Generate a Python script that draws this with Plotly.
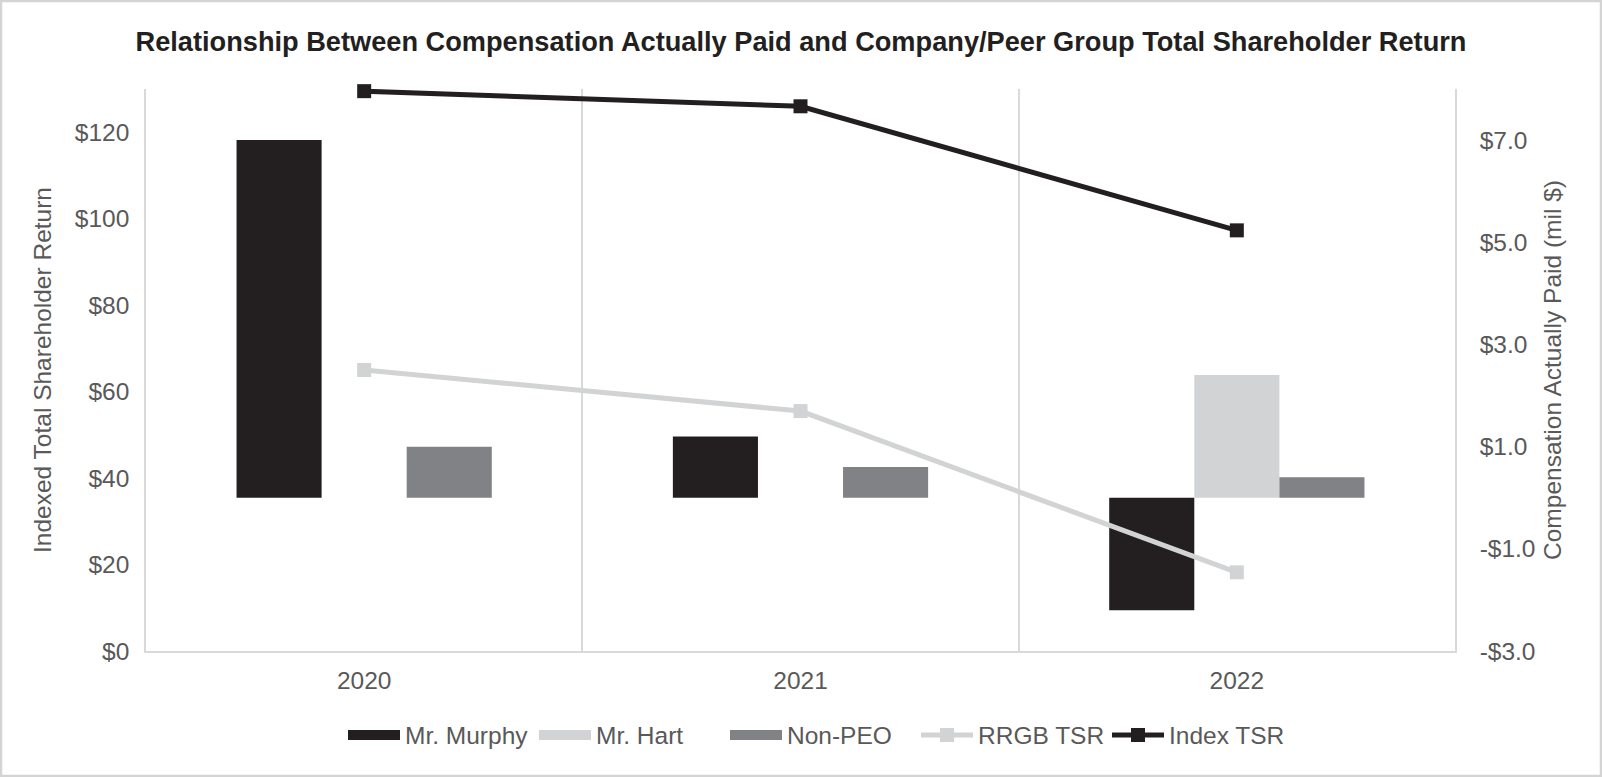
import plotly.graph_objects as go

# ---- data ----
years = ["2020", "2021", "2022"]
murphy = [7.0, 1.2, -2.2]
hart = [None, None, 2.4]
non_peo = [1.0, 0.6, 0.4]
rrgb_tsr = [65.0, 55.5, 18.2]
index_tsr = [129.5, 126.0, 97.3]

tsr_ticks = [0, 20, 40, 60, 80, 100, 120]
tsr_labels = ["$0", "$20", "$40", "$60", "$80", "$100", "$120"]
cap_ticks = [-3, -1, 1, 3, 5, 7]
cap_labels = ["-$3.0", "-$1.0", "$1.0", "$3.0", "$5.0", "$7.0"]

bar_names = ["Mr. Murphy", "Mr. Hart", "Non-PEO"]
bar_colors = ["#231f20", "#d1d3d4", "#808285"]

W, H = 1602, 777
ML, MR, MT, MB = 146, 147, 89, 126
FONT = "Liberation Sans, Arial, Helvetica, sans-serif"
GRAY_TXT = "#595959"
GRID = "#d9d9d9"
FS = 24.5

fig = go.Figure()

# bars on primary y (right side, compensation); legend drawn via swatch traces below
for name, vals, col in zip(bar_names, [murphy, hart, non_peo], bar_colors):
    fig.add_trace(go.Bar(x=years, y=vals, name=name, marker_color=col,
                         marker_line_width=0, yaxis="y", showlegend=False,
                         legendgroup=name))

# wide rectangular legend swatches for the bar series (no data points)
for name, col in zip(bar_names, bar_colors):
    fig.add_trace(go.Scatter(x=[None], y=[None], name=name, mode="lines",
                             line=dict(color=col, width=12), yaxis="y",
                             legendgroup=name, hoverinfo="skip"))

# lines on overlaying y2 (left side, TSR) so they draw above bars
fig.add_trace(go.Scatter(x=years, y=rrgb_tsr, name="RRGB TSR", mode="lines+markers",
                         line=dict(color="#d1d3d4", width=5),
                         marker=dict(symbol="square", size=14, color="#d1d3d4"),
                         yaxis="y2", cliponaxis=False))
fig.add_trace(go.Scatter(x=years, y=index_tsr, name="Index TSR", mode="lines+markers",
                         line=dict(color="#231f20", width=5),
                         marker=dict(symbol="square", size=14, color="#231f20"),
                         yaxis="y2", cliponaxis=False))

pw = W - ML - MR
ph = H - MT - MB

fig.update_layout(
    width=W, height=H,
    margin=dict(l=ML, r=MR, t=MT, b=MB),
    paper_bgcolor="white", plot_bgcolor="white",
    font=dict(family=FONT, size=FS, color=GRAY_TXT),
    barmode="group", bargap=0.415, bargroupgap=0,
    title=dict(text="<b>Relationship Between Compensation Actually Paid and Company/Peer Group Total Shareholder Return</b>",
               x=0.5, xanchor="center", y=(H - 41) / H, yanchor="middle",
               font=dict(family=FONT, size=27.2, color="#231f20")),
    xaxis=dict(type="category", tickson="boundaries", showgrid=True, gridcolor=GRID,
               gridwidth=1.5, showline=True, linecolor=GRID, linewidth=1.5,
               ticks="", tickfont=dict(size=FS, color=GRAY_TXT), ticklabelstandoff=7,
               range=[-0.5, 2.5]),
    yaxis=dict(side="right", range=[-3, 8], tickvals=cap_ticks, ticktext=cap_labels,
               showgrid=False, zeroline=False, showline=True, linecolor=GRID, linewidth=1.5,
               ticks="", ticklabelstandoff=18,
               title=dict(text="Compensation Actually Paid (mil $)", standoff=9,
                          font=dict(size=FS, color=GRAY_TXT))),
    yaxis2=dict(side="left", overlaying="y", range=[0, 130], tickvals=tsr_ticks,
                ticktext=tsr_labels, showgrid=False, zeroline=False, showline=True,
                linecolor=GRID, linewidth=1.5, ticks="", ticklabelstandoff=10,
                title=dict(text="Indexed Total Shareholder Return", standoff=16,
                           font=dict(size=FS, color=GRAY_TXT))),
    legend=dict(orientation="h", x=(343 - ML) / pw, xanchor="left", y=-84 / ph,
                yanchor="middle", font=dict(size=FS, color=GRAY_TXT), itemwidth=52,
                traceorder="normal", tracegroupgap=0, entrywidth=124,
                entrywidthmode="pixels"),
    showlegend=True,
)

# outer light-gray border around the whole chart
fig.add_shape(type="rect", xref="paper", yref="paper",
              x0=-(ML - 1) / pw, x1=1 + (MR - 1) / pw,
              y0=-(MB - 1) / ph, y1=1 + (MT - 1) / ph,
              line=dict(color="#d4d4d4", width=2.5), fillcolor="rgba(0,0,0,0)", layer="below")

fig.write_html("out.html", config={"displayModeBar": False},
               post_script="document.body.style.margin='0';document.body.style.overflow='hidden';")
